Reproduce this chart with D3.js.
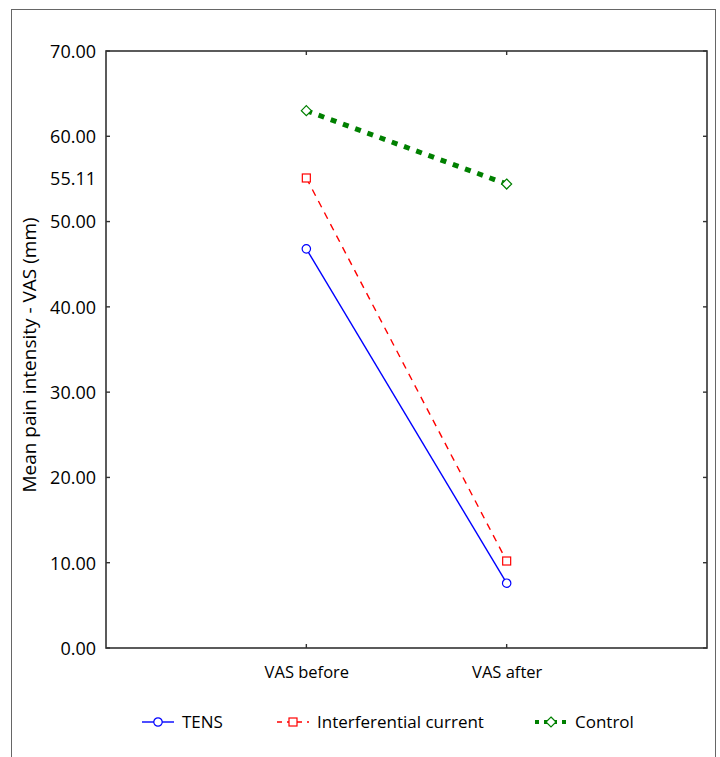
<!DOCTYPE html>
<html>
<head>
<meta charset="utf-8">
<script src="https://cdn.jsdelivr.net/npm/d3@7"></script>
<style>
  body { margin: 0; background: #fff; }
  text { font-family: "Open Sans", "Noto Sans", sans-serif; fill: #000; }
</style>
</head>
<body>
<div id="target_div"></div>
<script>
// data
var categories = ['VAS before', 'VAS after'];
var tens = [46.8, 7.6];
var interferential = [55.11, 10.2];
var control = [63.0, 54.4];
var y_ticks = [0, 10, 20, 30, 40, 50, 55.11, 60, 70];
var y_grid_ticks = [0, 10, 20, 30, 40, 50, 60, 70]; // 55.11 has a label but no tick

var margin = {top: 51, left: 106, right: 13, bottom: 109};
var canvas = {
  w: 720 - (margin.left + margin.right),
  h: 757 - (margin.top + margin.bottom)
};
var tick_len = 4;
var font_size = 17;

var series = [
  {name: 'TENS', values: tens, color: '#0000ff', width: 1.4, dash: null, marker: 'circle'},
  {name: 'Interferential current', values: interferential, color: '#ff0000', width: 1.4, dash: '7,6', marker: 'square'},
  {name: 'Control', values: control, color: '#008000', width: 5, dash: '6,7', marker: 'diamond'}
];

var svg = d3.select('#target_div')
  .append('svg')
  .attr('width', 720)
  .attr('height', 757);

// outer frame
svg.append('rect')
  .attr('x', 11.5).attr('y', 9.5)
  .attr('width', 704).attr('height', 760)
  .style('fill', 'none')
  .style('stroke', '#666')
  .style('stroke-width', 1);

var g = svg.append('g')
  .attr('transform', `translate(${margin.left}, ${margin.top})`);

var mapX = d3.scalePoint().domain(categories).range([0, canvas.w]).padding(1);
var mapY = d3.scaleLinear().domain([0, 70]).range([canvas.h, 0]);

// plot box
g.append('rect')
  .attr('width', canvas.w).attr('height', canvas.h)
  .style('fill', 'none')
  .style('stroke', '#333')
  .style('stroke-width', 1.6);

// y axis: labels (incl. 55.11) and inward ticks on both sides
var yAxis = d3.axisLeft(mapY).tickValues(y_ticks).tickSize(0).tickPadding(10)
  .tickFormat(d3.format('.2f'));
var ya = g.append('g').call(yAxis);
ya.select('.domain').remove();
ya.selectAll('text').style('font-size', '18px').attr('dy', '0.35em');

g.selectAll('.ytick-l').data(y_grid_ticks).enter().append('line')
  .attr('x1', 0).attr('x2', tick_len)
  .attr('y1', d => mapY(d)).attr('y2', d => mapY(d))
  .style('stroke', '#333').style('stroke-width', 1.4);
g.selectAll('.ytick-r').data(y_grid_ticks).enter().append('line')
  .attr('x1', canvas.w - tick_len).attr('x2', canvas.w)
  .attr('y1', d => mapY(d)).attr('y2', d => mapY(d))
  .style('stroke', '#333').style('stroke-width', 1.4);

// x axis
var xAxis = d3.axisBottom(mapX).tickSize(0).tickPadding(18);
var xa = g.append('g').attr('transform', `translate(0, ${canvas.h})`).call(xAxis);
xa.select('.domain').remove();
xa.selectAll('text').style('font-size', '16.5px');

g.selectAll('.xtick-b').data(categories).enter().append('line')
  .attr('x1', d => mapX(d)).attr('x2', d => mapX(d))
  .attr('y1', canvas.h - tick_len).attr('y2', canvas.h)
  .style('stroke', '#333').style('stroke-width', 1.4);
g.selectAll('.xtick-t').data(categories).enter().append('line')
  .attr('x1', d => mapX(d)).attr('x2', d => mapX(d))
  .attr('y1', 0).attr('y2', tick_len)
  .style('stroke', '#333').style('stroke-width', 1.4);

// y label
svg.append('text')
  .attr('transform', 'translate(36, 355) rotate(-90)')
  .attr('text-anchor', 'middle')
  .style('font-size', '19px')
  .text('Mean pain intensity - VAS (mm)');

function draw_marker(sel, type, color) {
  if (type === 'circle') {
    sel.append('circle').attr('r', 4.2);
  } else if (type === 'square') {
    sel.append('rect').attr('x', -4).attr('y', -4).attr('width', 8).attr('height', 8);
  } else {
    sel.append('path').attr('d', 'M0,-5L5,0L0,5L-5,0Z');
  }
  sel.selectAll('*')
    .style('fill', '#fff')
    .style('stroke', color)
    .style('stroke-width', 1.2);
}

var lineGen = d3.line()
  .x((d, i) => mapX(categories[i]))
  .y(d => mapY(d));

series.forEach(function (s) {
  g.append('path')
    .attr('d', lineGen(s.values))
    .style('fill', 'none')
    .style('stroke', s.color)
    .style('stroke-width', s.width)
    .style('stroke-dasharray', s.dash);
  s.values.forEach(function (v, i) {
    var m = g.append('g')
      .attr('transform', `translate(${mapX(categories[i])}, ${mapY(v)})`);
    draw_marker(m, s.marker, s.color);
  });
});

// legend
var legend_x = [142, 277, 535];
var legend_y = 722;
series.forEach(function (s, i) {
  var lg = svg.append('g').attr('transform', `translate(${legend_x[i]}, ${legend_y})`);
  lg.append('line')
    .attr('x1', 0).attr('x2', 32)
    .style('stroke', s.color)
    .style('stroke-width', s.width === 5 ? 4 : s.width)
    .style('stroke-dasharray', s.dash ? (s.width === 5 ? '4,5' : '5,5') : null);
  var m = lg.append('g').attr('transform', 'translate(16, 0)');
  draw_marker(m, s.marker, s.color);
  lg.append('text')
    .attr('x', 40)
    .attr('dy', '0.35em')
    .style('font-size', font_size + 'px')
    .text(s.name);
});
</script>
</body>
</html>
